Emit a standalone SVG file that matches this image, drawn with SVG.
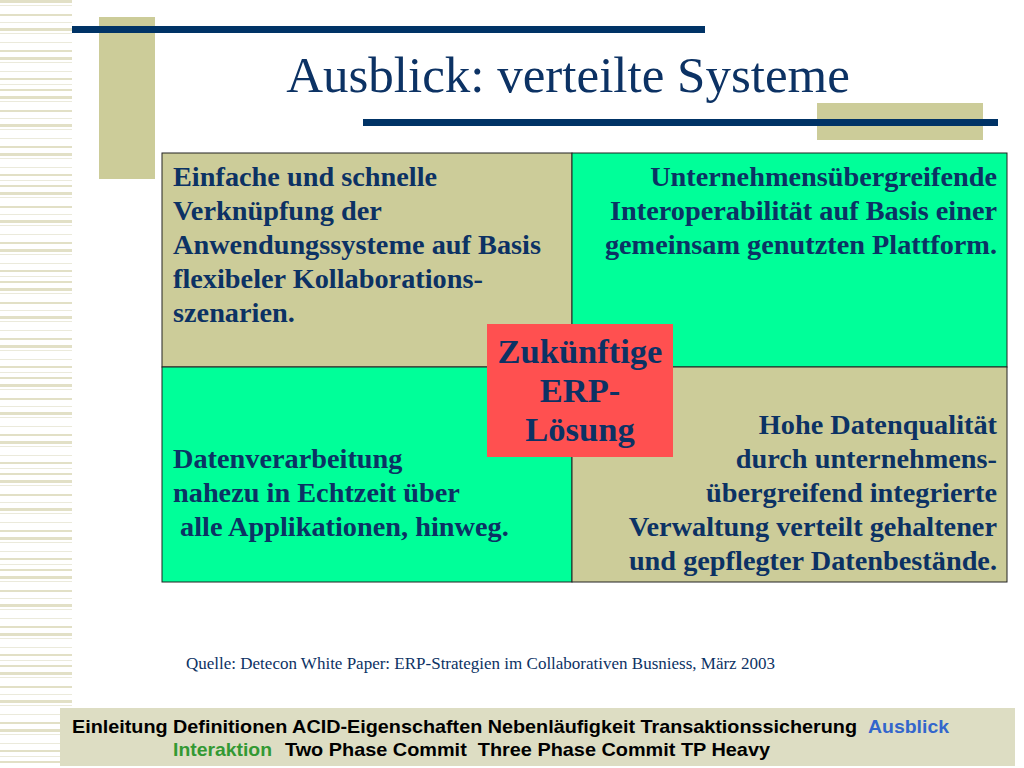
<svg xmlns="http://www.w3.org/2000/svg" width="1024" height="768" viewBox="0 0 1024 768">
<defs>
<style>
.t{font-family:"Liberation Serif","Times New Roman",serif;font-weight:bold;font-size:28.3px;fill:#0c3264}
.r{text-anchor:end}
.c{text-anchor:middle;font-size:34.5px}
.f{font-family:"Liberation Sans Narrow","Liberation Sans",Arial,sans-serif;font-weight:bold;font-size:18.5px;fill:#000}
.s{fill:#e2e0c6}
.s2{fill:#ebeadb}
</style>
<pattern id="stripes" x="0" y="0" width="72" height="96" patternUnits="userSpaceOnUse">
<rect class="s" x="0" y="0" width="72" height="3"/>
<rect class="s2" x="0" y="5" width="72" height="1"/>
<rect class="s" x="0" y="14" width="72" height="2"/>
<rect class="s2" x="0" y="22" width="72" height="1"/>
<rect class="s" x="0" y="28" width="72" height="3"/>
<rect class="s2" x="0" y="33" width="72" height="1"/>
<rect class="s2" x="0" y="42" width="72" height="1"/>
<rect class="s" x="0" y="50" width="72" height="2"/>
<rect class="s" x="0" y="57" width="72" height="3"/>
<rect class="s2" x="0" y="62" width="72" height="1"/>
<rect class="s2" x="0" y="71" width="72" height="1"/>
<rect class="s" x="0" y="78" width="72" height="2"/>
<rect class="s2" x="0" y="84" width="72" height="1"/>
<rect class="s" x="0" y="89" width="72" height="2"/>
</pattern>
</defs>
<rect width="1024" height="768" fill="#ffffff"/>
<rect x="0" y="0" width="72" height="768" fill="url(#stripes)"/>
<rect x="99" y="17" width="56" height="162" fill="#cccc99"/>
<rect x="72" y="26" width="633" height="7" fill="#003366"/>
<rect x="817" y="103" width="166" height="37" fill="#cccc99"/>
<rect x="363" y="119" width="635" height="7" fill="#003366"/>
<text x="568" y="92" style="font-family:'Liberation Serif','Times New Roman',serif;font-size:51px;fill:#0c3264" text-anchor="middle">Ausblick: verteilte Systeme</text>

<g id="q1"><rect x="162" y="153" width="410" height="214" fill="#cccc99" stroke="#222" stroke-width="1"/>
<text class="t" x="173" y="186">Einfache und schnelle</text>
<text class="t" x="173" y="220">Verknüpfung der</text>
<text class="t" x="173" y="254">Anwendungssysteme auf Basis</text>
<text class="t" x="173" y="288">flexibeler Kollaborations-</text>
<text class="t" x="173" y="322">szenarien.</text></g>
<g id="q2"><rect x="572" y="153" width="435" height="214" fill="#00ff99" stroke="#222" stroke-width="1"/>
<text class="t r" x="997" y="186">Unternehmensübergreifende</text>
<text class="t r" x="997" y="220">Interoperabilität auf Basis einer</text>
<text class="t r" x="997" y="254">gemeinsam genutzten Plattform.</text></g>
<g id="q3"><rect x="162" y="367" width="410" height="215" fill="#00ff99" stroke="#222" stroke-width="1"/>
<text class="t" x="173" y="468">Datenverarbeitung</text>
<text class="t" x="173" y="502">nahezu in Echtzeit über</text>
<text class="t" x="173" y="536" xml:space="preserve"> alle Applikationen, hinweg.</text></g>
<g id="q4"><rect x="572" y="367" width="435" height="215" fill="#cccc99" stroke="#222" stroke-width="1"/>
<text class="t r" x="997" y="434">Hohe Datenqualität</text>
<text class="t r" x="997" y="468">durch unternehmens-</text>
<text class="t r" x="997" y="502">übergreifend integrierte</text>
<text class="t r" x="997" y="536">Verwaltung verteilt gehaltener</text>
<text class="t r" x="997" y="570">und gepflegter Datenbestände.</text></g>
<g id="center"><rect x="487" y="324" width="186" height="133" fill="#ff5050"/>
<text class="t c" x="580" y="363">Zukünftige</text>
<text class="t c" x="580" y="402">ERP-</text>
<text class="t c" x="580" y="441">Lösung</text></g>

<text x="186" y="669" style="font-family:'Liberation Serif','Times New Roman',serif;font-size:17px;fill:#0c3264">Quelle: Detecon White Paper: ERP-Strategien im Collaborativen Busniess, März 2003</text>

<g id="footer"><rect x="60" y="708" width="955" height="58" fill="#ddddc3"/>
<text class="f" x="72" y="733" textLength="785" lengthAdjust="spacingAndGlyphs">Einleitung Definitionen ACID-Eigenschaften Nebenläufigkeit Transaktionssicherung</text>
<text class="f" x="868" y="733" textLength="81" lengthAdjust="spacingAndGlyphs" style="fill:#3366cc">Ausblick</text>
<text class="f" x="173" y="756" textLength="99" lengthAdjust="spacingAndGlyphs" style="fill:#339933">Interaktion</text>
<text class="f" x="285" y="756" textLength="485" lengthAdjust="spacingAndGlyphs" xml:space="preserve">Two Phase Commit  Three Phase Commit TP Heavy</text></g>
</svg>
